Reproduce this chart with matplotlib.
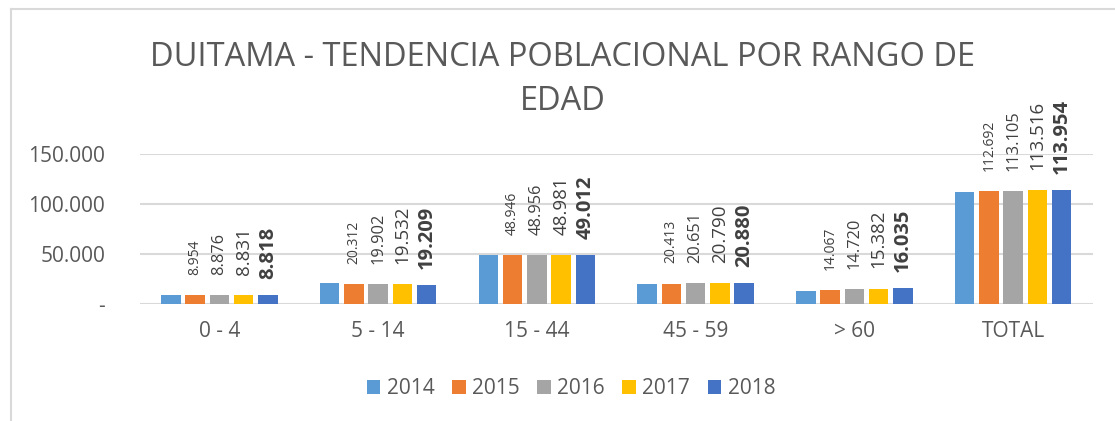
import matplotlib.pyplot as plt
import numpy as np

plt.rcParams['font.family'] = ['Open Sans', 'DejaVu Sans']

# Data
categories = ['0 - 4', '5 - 14', '15 - 44', '45 - 59', '> 60', 'TOTAL']
years = ['2014', '2015', '2016', '2017', '2018']
v2014 = [9000, 20700, 48900, 20100, 13400, 112250]
v2015 = [8954, 20312, 48946, 20413, 14067, 112692]
v2016 = [8876, 19902, 48956, 20651, 14720, 113105]
v2017 = [8831, 19532, 48981, 20790, 15382, 113516]
v2018 = [8818, 19209, 49012, 20880, 16035, 113954]
series = [v2014, v2015, v2016, v2017, v2018]
colors = ['#5B9BD5', '#ED7D31', '#A5A5A5', '#FFC000', '#4472C4']

W, H = 1115, 421
fig = plt.figure(figsize=(W / 100, H / 100), dpi=100)
ax = fig.add_axes([140 / W, (H - 304) / H, (1092.5 - 140) / W, 150 / H])

x = np.arange(len(categories))
step, width = 0.153, 0.123
for i, (vals, col, yr) in enumerate(zip(series, colors, years)):
    ax.bar(x + (i - 2) * step, vals, width, color=col, label=yr, zorder=3)

# value labels: 2015..2018, growing in size, last one bold
lab_sizes = [10, 11.8, 13.5, 14.5]
lab_offsets = [14.5, 14.5, 14.5, 11.5]
for j, vals in enumerate(series[1:]):
    i = j + 1
    for k, v in enumerate(vals):
        txt = f'{v:,}'.replace(',', '.')
        ax.annotate(txt, (x[k] + (i - 2) * step, v), xytext=(0, lab_offsets[j]),
                    textcoords='offset points', rotation=90, ha='center', va='bottom',
                    fontsize=lab_sizes[j], color='#404040',
                    fontweight='bold' if j == 3 else 'normal', annotation_clip=False)

ax.set_xlim(-0.5, 5.5)
ax.set_ylim(0, 150000)
ax.set_yticks([0, 50000, 100000, 150000])
ax.set_yticklabels(['-', '50.000', '100.000', '150.000'])
ax.set_xticks(x)
ax.set_xticklabels(categories)
ax.tick_params(axis='both', length=0, labelsize=15, labelcolor='#595959')
ax.tick_params(axis='y', pad=25)
ax.tick_params(axis='x', pad=12)
ax.grid(axis='y', color='#D9D9D9', linewidth=1.5, zorder=0)
for s in ax.spines.values():
    s.set_visible(False)

fig.text(563 / W, 1 - 57 / H, 'DUITAMA - TENDENCIA POBLACIONAL POR RANGO DE',
         ha='center', va='center', fontsize=23.5, color='#595959')
fig.text(563 / W, 1 - 101 / H, 'EDAD', ha='center', va='center', fontsize=23.5, color='#595959')

leg = fig.legend(loc='center', bbox_to_anchor=(571 / W, 1 - 389 / H), ncol=5, frameon=False,
                 fontsize=15, handlelength=0.65, handleheight=0.65, handletextpad=0.3,
                 columnspacing=0.85, labelcolor='#595959')

# outer chart border (top and left only visible)
fig.add_artist(plt.Line2D([11 / W, 11 / W], [0, 1 - 9 / H], color='#D9D9D9', lw=1.5,
                          transform=fig.transFigure))
fig.add_artist(plt.Line2D([11 / W, 1], [1 - 9 / H, 1 - 9 / H], color='#D9D9D9', lw=1.5,
                          transform=fig.transFigure))

fig.savefig('out.png', dpi=100)
